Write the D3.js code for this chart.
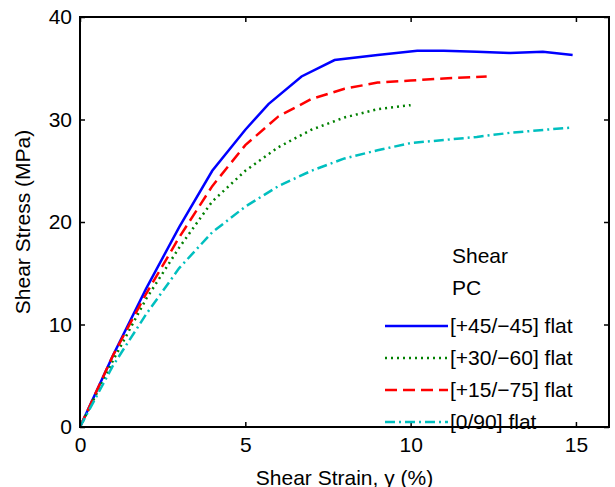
<!DOCTYPE html>
<html><head><meta charset="utf-8">
<script src="https://cdn.jsdelivr.net/npm/d3@7"></script>
<style>body{margin:0;background:#fff}svg text{font-family:"Liberation Sans",Arial,sans-serif}</style>
</head><body><svg id="c" width="615" height="487"></svg>
<script>
const xTicks = [0, 5, 10, 15];
const yTicks = [0, 10, 20, 30, 40];
const blue = [[0,0],[1,7],[2,13.5],[3,19.5],[4,25],[5,29],[5.7,31.5],[6.7,34.2],[7.7,35.8],[9,36.3],[10.2,36.7],[11,36.7],[12,36.6],[13,36.5],[14,36.6],[14.9,36.3]];
const green = [[0,0],[1,6.5],[2,12.5],[3,17.5],[4,22],[5,25],[6,27.3],[7,29],[8,30.2],[9,31],[10,31.4]];
const red = [[0,0],[1,7],[2,13],[3,18.5],[4,23.5],[5,27.5],[6,30.3],[7,32],[8,33],[9,33.6],[10,33.8],[11,34],[12.3,34.2]];
const cyan = [[0,0],[1,6],[2,11],[3,15.5],[4,19],[5,21.5],[6,23.5],[7,25],[8,26.2],[9,27],[10,27.7],[11,28],[12,28.3],[13,28.7],[14.8,29.2]];
const series = [
  {name: "[+45/\u221245] flat", data: blue, color: "#0000ff", dash: null},
  {name: "[+30/\u221260] flat", data: green, color: "#008000", dash: "2,4"},
  {name: "[+15/\u221275] flat", data: red, color: "#ff0000", dash: "12,6"},
  {name: "[0/90] flat", data: cyan, color: "#00bfbf", dash: "10,4,2,4"}
];

const m = {top: 17, right: 6, bottom: 60, left: 80};
const svg = d3.select("#c");
const w = 615 - m.left - m.right, h = 487 - m.top - m.bottom;
const g = svg.append("g").attr("transform", `translate(${m.left},${m.top})`);
const x = d3.scaleLinear().domain([0, 16]).range([0, w]);
const y = d3.scaleLinear().domain([0, 40]).range([h, 0]);

const line = d3.line().x(d => x(d[0])).y(d => y(d[1]));
series.forEach(s => {
  g.append("path").attr("d", line(s.data)).attr("fill", "none")
    .attr("stroke", s.color).attr("stroke-width", 2.5)
    .attr("stroke-dasharray", s.dash);
});

g.append("rect").attr("width", w).attr("height", h)
  .attr("fill", "none").attr("stroke", "#000").attr("stroke-width", 2);

g.append("g").attr("transform", `translate(0,${h})`)
  .call(d3.axisBottom(x).tickValues(xTicks).tickSize(-5).tickPadding(10));
g.append("g").call(d3.axisLeft(y).tickValues(yTicks).tickSize(-5).tickPadding(8));
g.append("g").attr("transform", `translate(${w},0)`)
  .call(d3.axisRight(y).tickValues(yTicks).tickSize(-5).tickFormat(""));
g.append("g").call(d3.axisTop(x).tickValues(xTicks).tickSize(-5).tickFormat(""));
g.selectAll(".domain").remove();
g.selectAll(".tick line").attr("stroke", "#000").attr("stroke-width", 1.5);
g.selectAll(".tick text").attr("font-size", 21).attr("fill", "#000")
  .style("font-family", "Liberation Sans, Arial, sans-serif");

svg.append("text").attr("x", m.left + x(8)).attr("y", 485).attr("text-anchor", "middle")
  .attr("font-size", 21).text("Shear Strain, \u03b3 (%)");
svg.append("text").attr("transform", `translate(30,${m.top + h / 2}) rotate(-90)`)
  .attr("text-anchor", "middle").attr("font-size", 21).text("Shear Stress (MPa)");

// legend (page coordinates)
const lg = svg.append("g");
lg.append("text").attr("x", 452).attr("y", 263).attr("font-size", 21).text("Shear");
lg.append("text").attr("x", 452).attr("y", 295).attr("font-size", 21).text("PC");
series.forEach((s, i) => {
  const yy = 326 + i * 32;
  lg.append("line").attr("x1", 385).attr("x2", 448).attr("y1", yy).attr("y2", yy)
    .attr("stroke", s.color).attr("stroke-width", 2.5).attr("stroke-dasharray", s.dash);
  lg.append("text").attr("x", 450).attr("y", yy + 7).attr("font-size", 21).text(s.name);
});
</script></body></html>
